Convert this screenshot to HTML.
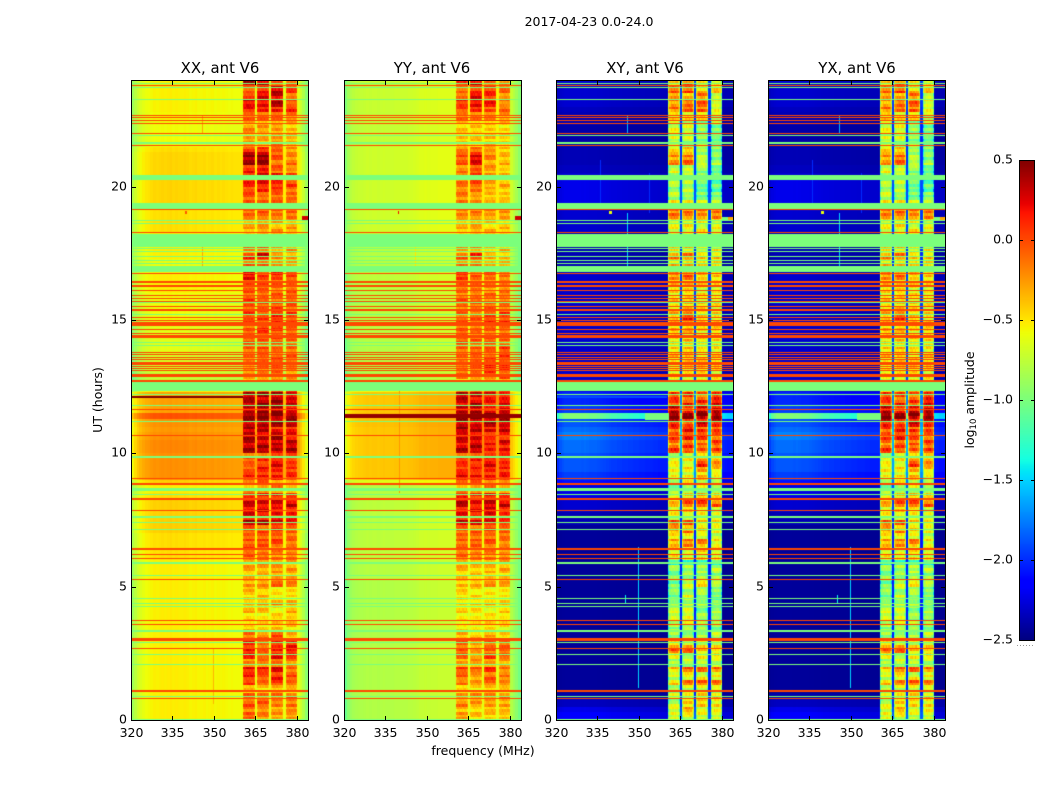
<!DOCTYPE html>
<html lang="en">
<head>
<meta charset="utf-8">
<title>2017-04-23 0.0-24.0</title>
<style>
html,body{margin:0;padding:0;background:#fff;width:1050px;height:800px;overflow:hidden}
#fig{position:relative;width:1050px;height:800px;background:#fff}
canvas{position:absolute;display:block}
svg{position:absolute;left:0;top:0}
text{font-family:"DejaVu Sans","Liberation Sans",sans-serif;font-size:12.5px;fill:#000}
.ttl{font-size:14.9px;text-anchor:middle}
</style>
</head>
<body>
<div id="fig">
<canvas id="c0" width="177" height="640" style="left:131px;top:80px"></canvas>
<canvas id="c1" width="177" height="640" style="left:344px;top:80px"></canvas>
<canvas id="c2" width="177" height="640" style="left:556px;top:80px"></canvas>
<canvas id="c3" width="177" height="640" style="left:768px;top:80px"></canvas>
<canvas id="cb" width="15" height="480" style="left:1019px;top:160px"></canvas>
<svg id="ov" width="1050" height="800" viewBox="0 0 1050 800">
<text x="589" y="26" text-anchor="middle">2017-04-23 0.0-24.0</text>
<text class="ttl" x="220" y="73">XX, ant V6</text>
<text class="ttl" x="432" y="73">YY, ant V6</text>
<text class="ttl" x="645" y="73">XY, ant V6</text>
<text class="ttl" x="857" y="73">YX, ant V6</text>
<text x="483" y="755" text-anchor="middle">frequency (MHz)</text>
<text x="0" y="0" text-anchor="middle" transform="translate(102 400) rotate(-90)">UT (hours)</text>
<text x="0" y="0" text-anchor="middle" transform="translate(974 400) rotate(-90)">log<tspan font-size="8.5" dy="2">10</tspan><tspan dy="-2"> amplitude</tspan></text>
<line x1="1017" y1="645.5" x2="1035" y2="645.5" stroke="#999" stroke-width="1" stroke-dasharray="1 2"></line>
</svg>
</div>
<script>
const xTicks = [320, 335, 350, 365, 380];
const yTicks = [0, 5, 10, 15, 20];
const colorTicks = [-2.5, -2, -1.5, -1, -0.5, 0, 0.5];
const bandEdges = [[360.6, 365], [365.6, 369.9], [370.7, 375], [375.8, 380]];

// Row = [low band, sub-band 1..4] log10 amplitude, one row per quarter hour, from 0 h upward.
const xxGrid = [
[-.55,-.1,-.2,-.25,-.25],[-.55,-.15,-.2,-.3,-.25],[-.55,-.05,-.1,-.2,-.15],[-.55,-.1,-.15,-.1,-.1],
[-.55,-.35,-.45,-.4,-.4],[-.55,0,-.1,.05,-.05],[-.55,.1,-.05,.1,-.05],[-.55,.15,.1,.2,-.1],
[-.55,-.2,-.2,-.1,-.2],[-.55,.1,0,.15,.1],[-.55,.1,-.1,.1,.15],[-.55,.1,-.1,.1,.05],
[-.55,-.1,-.2,0,-.4],[-.55,-.4,-.45,-.4,-.45],[-.55,-.45,-.5,-.45,-.4],[-.55,-.45,-.55,-.5,-.4],
[-.55,-.35,-.4,-.5,-.35],[-.55,-.4,-.3,-.2,-.3],[-.55,-.45,-.4,-.55,-.5],[-.55,-.35,-.35,-.5,-.45],
[-.55,-.3,-.25,-.1,-.2],[-.55,-.4,-.4,-.35,-.35],[-.55,-.3,-.3,-.25,-.3],[-.55,-.35,-.2,-.3,-.3],
[-.5,-.1,-.15,-.2,-.15],[-.5,0,-.15,-.2,-.2],[-.5,-.05,-.05,0,-.1],[-.5,-.1,-.05,-.05,-.1],
[-.45,-.05,-.05,0,-.1],[-.45,.35,.3,.25,.2],[-.45,.2,.15,.15,.1],[-.45,.25,.2,.15,.1],
[-.45,.25,.25,.25,.25],[-.5,.1,.1,.05,0],[-.55,-.3,-.2,-.2,-.3],[-.45,-.2,-.1,-.2,-.3],
[-.25,.1,.1,.1,.1],[-.25,-.05,.1,.15,.05],[-.25,-.1,.1,.2,.05],[-.25,-.1,-.1,0,-.05],
[-.22,.35,.35,.3,.35],[-.22,.35,.3,.3,.25],[-.25,.35,.3,.4,.2],[-.28,.3,.3,.1,.1],
[-.25,.35,.35,.35,.35],[-.05,.45,.45,.45,.45],[-.3,.3,.4,.4,.2],[-.3,.35,.4,.4,.25],
[-.3,.3,.35,.35,.25],[-.55,0,0,0,0],[-.75,-.3,-.3,-.3,-.3],[-.75,-.3,-.2,-.2,-.3],
[-.7,-.2,-.15,-.1,-.2],[-.7,-.1,-.1,-.1,-.15],[-.7,-.15,-.1,-.05,-.1],[-.65,-.1,-.05,-.15,-.1],
[-.65,-.05,-.1,-.05,-.1],[-.65,-.1,0,-.05,-.05],[-.65,-.1,.05,0,-.1],[-.65,-.05,-.1,.05,-.05],
[-.6,.1,0,.1,0],[-.6,-.05,-.05,0,-.05],[-.6,0,-.05,-.1,-.05],[-.6,-.05,-.1,-.1,-.05],
[-.55,-.05,-.1,-.1,-.1],[-.55,-.05,-.05,-.1,-.1],[-.55,.2,0,.05,0],[-.55,-.2,-.2,-.2,-.2],
[-.6,-.1,-.1,-.3,-.35],[-.55,.05,.2,-.25,-.3],[-.55,-.2,-.1,-.3,-.3],[-.6,-.3,-.3,-.4,-.4],
[-.55,-.4,-.4,-.4,-.4],[-.5,-.3,-.25,-.3,-.3],[-.5,-.3,-.3,-.3,-.3],[-.5,-.1,-.1,-.1,-.1],
[-.5,-.1,-.1,-.15,-.1],[-.47,-.1,-.1,-.1,-.15],[-.47,-.05,-.1,-.1,-.15],[-.47,.05,.05,.05,-.1],
[-.47,.1,.2,.1,0],[-.47,.1,.2,.1,0],[-.47,.1,.15,-.1,-.2],[-.47,.4,.4,-.1,-.15],
[-.47,.4,.4,-.05,-.2],[-.5,0,0,-.05,-.25],[-.6,-.3,-.3,-.2,-.35],[-.6,-.35,-.35,-.3,-.35],
[-.6,-.25,-.3,-.3,-.4],[-.6,-.3,-.3,-.3,-.4],[-.58,-.1,-.1,-.1,-.15],[-.56,.1,.1,.1,.1],
[-.56,.25,.2,.3,-.05],[-.56,.05,.2,.3,-.1],[-.56,-.1,.1,.3,.05],[-.56,.4,.3,-.1,-.1]
];
const yyGrid = [
[-.82,-.3,-.4,-.4,-.4],[-.82,-.35,-.45,-.35,-.4],[-.82,-.2,-.3,-.3,-.3],[-.82,-.3,-.2,-.2,-.2],
[-.82,-.45,-.5,-.45,-.45],[-.82,-.2,-.25,-.1,-.15],[-.82,-.1,-.3,-.1,-.2],[-.82,0,-.1,.05,-.15],
[-.82,-.3,-.3,-.25,-.3],[-.82,-.1,-.2,0,-.1],[-.82,-.1,-.3,-.1,-.1],[-.82,-.1,-.25,-.1,-.15],
[-.82,-.3,-.4,-.3,-.5],[-.82,-.5,-.55,-.5,-.55],[-.82,-.55,-.55,-.5,-.5],[-.82,-.5,-.55,-.55,-.5],
[-.82,-.45,-.5,-.55,-.45],[-.82,-.5,-.45,-.35,-.4],[-.82,-.5,-.5,-.55,-.55],[-.82,-.45,-.45,-.55,-.5],
[-.82,-.4,-.35,-.25,-.3],[-.8,-.45,-.45,-.45,-.45],[-.8,-.35,-.4,-.35,-.35],[-.8,-.35,-.3,-.35,-.3],
[-.78,-.15,-.2,-.2,-.2],[-.78,-.1,-.2,-.2,-.25],[-.78,-.1,-.1,-.05,-.15],[-.78,-.1,-.1,-.1,-.1],
[-.78,-.1,-.1,-.05,-.1],[-.78,.25,.2,.2,.1],[-.78,.15,.1,.2,.05],[-.78,.2,.15,.25,.1],
[-.78,.3,.2,.3,.25],[-.8,.15,.05,.1,.05],[-.8,-.25,-.2,-.2,-.25],[-.65,-.1,-.1,-.1,-.2],
[-.42,.2,.15,.1,.15],[-.42,.05,.05,.15,.1],[-.42,.05,.15,.2,.1],[-.42,-.05,0,.05,.05],
[-.42,.3,.3,.1,.15],[-.42,.25,.3,.15,.2],[-.42,.25,.25,.05,.1],[-.42,.35,.3,.2,.3],
[-.4,.35,.25,.3,.3],[-.38,.45,.45,.45,.45],[-.42,.3,.35,.15,.25],[-.42,.25,.3,.1,.2],
[-.42,.3,.25,.2,.15],[-.6,-.05,0,-.05,-.05],[-.85,-.4,-.3,-.4,-.4],[-.85,-.15,-.15,-.1,-.1],
[-.82,-.1,-.1,.05,.05],[-.82,-.1,-.1,-.05,-.05],[-.82,-.15,-.1,-.05,0],[-.82,-.1,-.1,-.1,.05],
[-.8,-.05,-.1,-.05,-.1],[-.8,-.1,-.1,-.1,-.1],[-.8,-.1,-.15,-.1,-.15],[-.8,-.1,-.15,.05,.05],
[-.8,-.05,-.1,0,0],[-.8,-.15,-.15,-.1,-.1],[-.8,-.1,-.1,-.15,-.15],[-.8,-.15,-.15,-.15,-.15],
[-.8,-.15,-.2,-.2,-.2],[-.8,-.1,-.15,-.2,-.2],[-.78,.05,-.1,-.1,-.15],[-.78,-.3,-.3,-.3,-.35],
[-.8,-.2,-.2,-.4,-.4],[-.8,-.1,.05,-.35,-.4],[-.8,-.3,-.25,-.4,-.4],[-.8,-.4,-.4,-.45,-.45],
[-.75,-.45,-.45,-.45,-.45],[-.72,-.35,-.3,-.4,-.4],[-.72,-.35,-.35,-.4,-.4],[-.72,-.2,-.2,-.25,-.25],
[-.72,-.2,-.2,-.25,-.25],[-.72,-.2,-.25,-.4,-.4],[-.72,-.2,-.25,-.4,-.45],[-.72,-.15,-.2,-.35,-.4],
[-.72,-.15,0,-.3,-.35],[-.72,-.15,0,-.3,-.35],[-.72,-.2,-.05,-.3,-.4],[-.72,-.05,.2,-.25,-.35],
[-.72,-.05,.2,-.2,-.35],[-.72,-.2,-.2,-.25,-.4],[-.76,-.45,-.4,-.4,-.45],[-.76,-.45,-.45,-.4,-.45],
[-.76,-.45,-.45,-.45,-.5],[-.76,-.4,-.4,-.4,-.45],[-.76,-.15,-.15,-.2,-.25],[-.74,-.05,.05,-.05,-.1],
[-.74,.1,.2,.1,-.2],[-.74,-.1,.2,.1,-.2],[-.74,-.15,.05,.05,-.1],[-.74,.1,.25,-.15,-.2]
];
const xyGrid = [
[-2.25,-.8,-.7,-.7,-.75],[-2.3,-.7,-.3,-.7,-.7],[-2.38,-.85,-.6,-.55,-.6],[-2.42,-.8,-.7,-.5,-.5],
[-2.45,-.9,-.8,-.8,-.8],[-2.45,-.6,-.2,-.1,-.1],[-2.45,-.8,-.7,-.7,-.7],[-2.45,-.5,-.2,-.25,-.2],
[-2.45,-.9,-.9,-.8,-.8],[-2.45,-.7,-.8,-.7,-.6],[-2.45,-.2,-.2,-.5,-.6],[-2.45,-.7,-.8,-.8,-.8],
[-2.45,-.9,-.9,-.9,-.9],[-2.45,-1,-.9,-1,-1],[-2.45,-.85,-.8,-1,-1],[-2.45,-.7,-.7,-1,-.9],
[-2.45,-.8,-.8,-1,-.95],[-2.45,-1,-.85,-.9,-1],[-2.45,-1.1,-.8,-1,-1.1],[-2.45,-1.05,-.85,-.8,-1],
[-2.45,-1.1,-.8,-.6,-.9],[-2.45,-1.1,-1,-1,-1],[-2.45,-1,-.9,-.9,-.9],[-2.45,-1.3,-1.3,-1.3,-1.2],
[-2.45,-.7,-.8,-.7,-.7],[-2.45,-.6,-.7,-.6,-.7],[-2.45,-.4,-.3,-.3,-.6],[-2.45,-.6,-.6,-.7,-.8],
[-2.45,-.4,-.3,-.6,-.7],[-2.4,-.15,-.15,-.5,-.5],[-2.4,-.7,-.7,-.7,-.8],[-2.35,-.6,-.6,-.7,-.8],
[-2.35,-.5,-.1,-.05,-.2],[-2.3,-.7,-.6,-.5,-.6],[-2.3,-1,-.8,-.8,-.8],[-2.2,-1,-.7,-.7,-.8],
[-2.1,-.7,-.7,-.5,-.7],[-2.05,-.65,-.65,-.3,-.5],[-2.05,-.7,-.6,-.05,-.3],[-2.05,-.8,-.7,-.6,-.6],
[-2,-.1,-.1,-.2,-.1],[-2,-.2,-.1,-.2,-.15],[-1.95,-.1,.05,-.05,-.15],[-2,-.15,.05,-.1,-.1],
[-2.05,.15,-.1,.1,.1],[-1.4,.45,.45,.45,.45],[-2.1,.2,-.05,.2,.2],[-2.15,-.05,-.05,-.05,.1],
[-2.15,-.1,-.05,-.15,.05],[-2.3,-.4,-.3,-.35,-.4],[-2.35,-.7,-.7,-.7,-.7],[-2.35,-.7,-.65,-.65,-.7],
[-2.35,-.6,-.6,-.6,-.6],[-2.35,-.55,-.5,-.5,-.6],[-2.35,-.5,-.5,-.6,-.55],[-2.35,-.55,-.5,-.7,-.6],
[-2.35,-.6,-.5,-.6,-.55],[-2.35,-.6,-.55,-.6,-.6],[-2.35,-.5,-.45,-.6,-.55],[-2.35,-.55,-.3,-.6,-.6],
[-2.35,-.35,-.05,-.5,-.6],[-2.35,-.55,-.4,-.6,-.6],[-2.35,-.6,-.5,-.6,-.6],[-2.35,-.6,-.55,-.65,-.65],
[-2.35,-.6,-.6,-.7,-.7],[-2.35,-.5,-.5,-.6,-.6],[-2.35,-.3,-.2,-.5,-.5],[-2.35,-.6,-.55,-.6,-.6],
[-2.4,-.5,-.45,-.6,-.6],[-2.4,-.3,-.3,-.55,-.5],[-2.4,-.6,-.5,-.7,-.7],[-2.4,-.8,-.8,-.8,-.8],
[-2.4,-.8,-.8,-.8,-.8],[-2.35,-.7,-.7,-.7,-.7],[-2.35,-.65,-.65,-.65,-.65],[-2.35,-.2,-.25,-.25,-.2],
[-2.35,-.25,-.3,-.3,-.25],[-2.3,-.7,-.7,-.8,-.8],[-2.3,-.9,-.9,-1.1,-1.1],[-2.3,-.9,-.9,-1.2,-1.2],
[-2.3,-.9,-.85,-1.1,-1.2],[-2.35,-.9,-.9,-1.1,-1.15],[-2.38,-.8,-.8,-1,-1.1],[-2.4,-.3,-.2,-.65,-.9],
[-2.4,-.35,-.3,-.9,-1],[-2.4,-.6,-.6,-.9,-1],[-2.42,-.9,-.9,-1,-1.1],[-2.42,-.8,-.8,-1,-1.1],
[-2.42,-.75,-.8,-1,-1.1],[-2.4,-.8,-.8,-1,-1],[-2.4,-.6,-.6,-.6,-.8],[-2.38,-.3,-.2,-.2,-.7],
[-2.35,-.3,-.2,-.2,-.7],[-2.35,-.3,-.5,-.2,-.7],[-2.35,-.2,-.1,-.5,-.5],[-2.35,-.5,-.2,-.7,-.7]
];
const yxGrid = [
[-2.25,-.75,-.7,-.75,-.75],[-2.3,-.7,-.35,-.7,-.65],[-2.38,-.8,-.6,-.6,-.6],[-2.42,-.8,-.65,-.5,-.55],
[-2.45,-.85,-.8,-.8,-.8],[-2.45,-.55,-.25,-.1,-.15],[-2.45,-.8,-.65,-.7,-.7],[-2.45,-.5,-.25,-.2,-.25],
[-2.45,-.9,-.85,-.8,-.85],[-2.45,-.7,-.75,-.7,-.6],[-2.45,-.25,-.2,-.5,-.55],[-2.45,-.7,-.8,-.8,-.75],
[-2.45,-.9,-.85,-.9,-.9],[-2.45,-1,-.9,-1,-.95],[-2.45,-.85,-.8,-.95,-1],[-2.45,-.7,-.75,-1,-.9],
[-2.45,-.8,-.8,-.95,-.95],[-2.45,-.95,-.85,-.9,-1],[-2.45,-1.1,-.85,-1,-1.05],[-2.45,-1,-.85,-.8,-1],
[-2.45,-1.1,-.8,-.65,-.9],[-2.45,-1.05,-1,-1,-1],[-2.45,-1,-.9,-.85,-.9],[-2.45,-1.3,-1.25,-1.3,-1.2],
[-2.45,-.7,-.75,-.7,-.7],[-2.45,-.6,-.7,-.65,-.7],[-2.45,-.4,-.35,-.3,-.6],[-2.45,-.6,-.6,-.65,-.8],
[-2.45,-.4,-.35,-.6,-.7],[-2.4,-.2,-.15,-.5,-.55],[-2.4,-.7,-.65,-.7,-.8],[-2.35,-.6,-.6,-.65,-.8],
[-2.35,-.45,-.1,-.1,-.2],[-2.3,-.7,-.6,-.55,-.6],[-2.3,-1,-.85,-.8,-.8],[-2.2,-.95,-.7,-.7,-.8],
[-2.1,-.7,-.65,-.5,-.7],[-2.05,-.6,-.65,-.35,-.5],[-2.05,-.7,-.6,-.1,-.3],[-2.05,-.8,-.65,-.6,-.6],
[-2,-.1,-.15,-.2,-.1],[-2,-.2,-.1,-.15,-.15],[-1.95,-.1,.05,-.1,-.15],[-2,-.15,0,-.1,-.1],
[-2.05,.15,-.05,.1,.1],[-1.4,.45,.45,.45,.45],[-2.1,.2,-.05,.15,.2],[-2.15,-.05,-.05,-.1,.1],
[-2.15,-.1,-.1,-.15,.05],[-2.3,-.4,-.35,-.35,-.4],[-2.35,-.7,-.65,-.7,-.7],[-2.35,-.7,-.6,-.65,-.7],
[-2.35,-.55,-.6,-.6,-.6],[-2.35,-.55,-.5,-.55,-.6],[-2.35,-.5,-.55,-.6,-.55],[-2.35,-.55,-.5,-.65,-.6],
[-2.35,-.6,-.55,-.6,-.55],[-2.35,-.6,-.55,-.55,-.6],[-2.35,-.5,-.5,-.6,-.55],[-2.35,-.55,-.35,-.6,-.6],
[-2.35,-.35,-.1,-.5,-.6],[-2.35,-.5,-.4,-.6,-.6],[-2.35,-.6,-.55,-.6,-.6],[-2.35,-.6,-.5,-.65,-.65],
[-2.35,-.6,-.6,-.65,-.7],[-2.35,-.5,-.55,-.6,-.6],[-2.35,-.3,-.25,-.5,-.5],[-2.35,-.6,-.5,-.6,-.6],
[-2.4,-.5,-.5,-.6,-.6],[-2.4,-.35,-.3,-.55,-.5],[-2.4,-.6,-.5,-.65,-.7],[-2.4,-.8,-.75,-.8,-.8],
[-2.4,-.8,-.75,-.8,-.8],[-2.35,-.7,-.7,-.65,-.7],[-2.35,-.65,-.6,-.65,-.65],[-2.35,-.25,-.25,-.25,-.2],
[-2.35,-.25,-.25,-.3,-.25],[-2.3,-.7,-.65,-.8,-.8],[-2.3,-.85,-.9,-1.1,-1.05],[-2.3,-.85,-.9,-1.15,-1.2],
[-2.3,-.9,-.8,-1.1,-1.2],[-2.35,-.85,-.9,-1.1,-1.15],[-2.38,-.75,-.8,-1,-1.1],[-2.4,-.35,-.2,-.7,-.9],
[-2.4,-.35,-.25,-.9,-1],[-2.4,-.55,-.6,-.9,-1],[-2.42,-.85,-.9,-1,-1.1],[-2.42,-.8,-.75,-1,-1.1],
[-2.42,-.75,-.75,-1,-1.1],[-2.4,-.8,-.75,-1,-1],[-2.4,-.55,-.6,-.6,-.8],[-2.38,-.3,-.25,-.2,-.7],
[-2.35,-.35,-.2,-.2,-.7],[-2.35,-.3,-.45,-.2,-.7],[-2.35,-.25,-.1,-.5,-.5],[-2.35,-.5,-.25,-.7,-.7]
];

// Low-band spectral shape per 1 MHz channel from 320 MHz.
const xxShape = [-.32,-.22,-.15,-.1,-.06,-.03,-.02,0,.02,.01,.02,.03,.02,.03,.04,.02,.03,.02,.02,.03,.02,0,.01,.02,0,0,.01,-.01,0,.01,-.01,0,-.01,0,-.01,-.02,-.01,-.02,-.02,-.02,-.03,-.03,-.02,-.03,-.03,-.03,-.04,-.04,-.04,-.04,-.04,-.04,-.04,-.04,-.04,-.04,-.04,-.04,-.04,-.04,-.05,-.15,-.25,-.4];
const yyShape = [-.25,-.12,-.06,-.03,-.01,0,0,.01,.02,.01,.02,.02,.01,.02,.03,.02,.02,.02,.03,.03,.03,.03,.03,.04,.04,.05,.06,.08,.08,.09,.08,.09,.09,.09,.1,.1,.1,.1,.1,.1,.1,.1,.1,.1,.1,.1,.1,.1,.1,.1,.1,.1,.1,.1,.1,.1,.1,.1,.1,.1,.02,-.05,-.12,-.22];
const crossShape = [.2,.55,.7,.8,.8,.8,.8,.8,.8,.75,.8,.75,.7,.7,.7,.65,.6,.55,.5,.45,.4,.4,.35,.35,.3,.3,.25,.25,.2,.2,.15,.15,.1,.1,.1,.05,.05,0,0,0,0,0,0,0,0,0,0,0,0,0,0,0,0,0,0,0,0,0,0,0,-.1,-.15,-.2,-.2];

// Fine structure inside the sub-bands: deviation per 0.1 h row and per 0.5 MHz channel.
const rowTexture = [.1,-.05,.12,-.12,.04,.14,-.08,-.14,.06,.1,-.1,.02,-.06,.13,-.02,-.13,.09,.03,-.11,.11,-.04,.07,-.09,.05];
const channelTexture = [-.04,.03,.06,-.02,.05,-.05,.02,.04,-.03,.06,-.04,.01];

// Flagged rows: [hour, thickness in hours].
const orangeFlags = [[.81,.05],[1.1,.08],[2.69,.05],[3.03,.1],[3.59,.05],[3.74,.05],[5.28,.05],[6.06,.05],[6.21,.05],[6.41,.09],[7.84,.05],[8.29,.06],[8.85,.08],[9.06,.05],[10.67,.05],[11.62,.05],[12.71,.08],[12.92,.12],[13.09,.05],[13.16,.05],[13.25,.05],[13.35,.13],[13.53,.05],[13.6,.05],[13.69,.05],[13.79,.05],[14.37,.12],[14.5,.05],[14.65,.05],[14.84,.15],[14.99,.05],[15.09,.05],[15.38,.08],[15.5,.05],[15.69,.05],[15.81,.05],[15.91,.05],[16.11,.05],[16.28,.08],[16.44,.08],[16.75,.05],[18.29,.05],[19.15,.05],[21.55,.05],[22,.05],[22.35,.05],[22.46,.05],[22.6,.05],[22.66,.05],[23.8,.05]];
const greenFlags = [[.03,.05],[.87,.05],[2.09,.05],[2.46,.05],[2.91,.05],[3.35,.08],[4.25,.05],[4.38,.05],[4.56,.05],[5.41,.05],[5.9,.08],[7.15,.05],[7.41,.05],[7.62,.06],[8.44,.05],[8.64,.11],[9.87,.06],[11.2,.05],[11.8,.05],[12.19,.05],[12.35,.05],[12.52,.29],[14.04,.05],[14.15,.05],[15.21,.05],[15.64,.05],[16.83,.05],[16.95,.18],[17.1,.05],[17.22,.05],[17.37,.05],[17.56,.05],[17.69,.05],[17.82,.16],[18.07,.33],[18.6,.05],[18.71,.05],[19.27,.22],[20.34,.2],[21.63,.08],[21.9,.05],[23.28,.05],[23.73,.05],[23.88,.05]];

// Isolated interference: [freq start, freq end, hour start, hour end, value].
const xxSpikes = [[345.6,346,17,18.2,-.3],[345.6,346,22,22.7,-.3],[349.8,350.2,.6,2.7,-.35],[339.5,340.2,19,19.1,-.05],[382,384,18.7,18.9,.3],[320,360.6,12.08,12.14,.6]];
const yySpikes = [[339.8,340.2,8.5,12.4,-.25],[339.5,340,19,19.1,.2],[345.6,346,17,18.2,-.5],[382,384,18.7,18.9,.3],[320,384,11.33,11.47,.45]];
const xySpikes = [[345.6,346,17,18,-1.5],[345.6,346,18.2,19,-1.5],[345.6,346,22,22.7,-1.6],[349.8,350.2,1.2,6.5,-1.5],[335.8,336.2,19.4,21,-2],[353.8,354.2,19,20.5,-2],[345,345.4,4.4,4.7,-1.4],[339,340,19,19.1,-.6],[382,384,18.7,18.85,-.3],[380,382,18.7,18.85,-1],[320,360,12.08,12.14,-1.9],[352,360.5,11.25,11.5,-1]];
const yxSpikes = [[345.6,346,17,18,-1.5],[345.6,346,18.2,19,-1.5],[345.6,346,22,22.7,-1.6],[349.8,350.2,1.2,6.5,-1.5],[335.8,336.2,19.4,21,-2],[353.8,354.2,19,20.5,-2],[345,345.4,4.4,4.7,-1.4],[339,340,19,19.1,-.6],[382,384,18.7,18.85,-.3],[380,382,18.7,18.85,-1],[352,360.5,11.25,11.5,-1]];

const CH = 0.5, DH = 0.1, F0 = 320, F1 = 384, H1 = 24, VMIN = -2.5, VMAX = 0.5;
const W = 177, H = 640;
const xScale = f => (f - F0) / (F1 - F0) * W;
const yScale = h => H - h / H1 * H;

function ramp(t, pts) {
  for (let i = 1; i < pts.length; i++) {
    if (t <= pts[i][0]) {
      const a = pts[i - 1], b = pts[i];
      return a[1] + (b[1] - a[1]) * (t - a[0]) / (b[0] - a[0]);
    }
  }
  return pts[pts.length - 1][1];
}
function jet(v) {
  const t = Math.max(0, Math.min(1, (v - VMIN) / (VMAX - VMIN)));
  const r = ramp(t, [[0,0],[.35,0],[.66,1],[.89,1],[1,.5]]);
  const g = ramp(t, [[0,0],[.125,0],[.375,1],[.64,1],[.91,0],[1,0]]);
  const b = ramp(t, [[0,.5],[.11,1],[.34,1],[.65,0],[1,0]]);
  return 'rgb(' + Math.round(r * 255) + ',' + Math.round(g * 255) + ',' + Math.round(b * 255) + ')';
}

function cellValue(row, f, pol, sub, ci) {
  const low = row[0];
  for (let k = 0; k < bandEdges.length; k++) {
    const e = bandEdges[k];
    if (f >= e[0] && f < e[1]) {
      const d = Math.min(f - e[0], e[1] - f);
      const drop = d < 0.5 ? pol.edge : d < 1 ? pol.edge * 0.2 : 0;
      const tex = rowTexture[(sub + k * 7) % rowTexture.length] + channelTexture[(ci + sub) % channelTexture.length];
      return row[k + 1] + pol.bandOffset + tex * pol.tex - drop;
    }
  }
  if (f >= bandEdges[0][0] && f < bandEdges[3][1]) return low + pol.gap;
  const s = pol.shape[Math.floor(f - F0)];
  return low + s * (pol.cross ? (low - VMIN) * 0.5 : 1);
}

function drawPanel(id, grid, pol, spikes) {
  const ctx = document.getElementById(id).getContext('2d');
  const rows = Math.round(H1 / DH);
  for (let sub = 0; sub < rows; sub++) {
    const hour = sub * DH;
    const row = grid[Math.min(grid.length - 1, Math.floor(hour * 4 + 1e-6))];
    const y0 = Math.round(yScale(hour + DH)), y1 = Math.round(yScale(hour));
    for (let ci = 0; ci * CH < F1 - F0; ci++) {
      const f = F0 + ci * CH;
      const x0 = Math.round(xScale(f)), x1 = Math.round(xScale(f + CH));
      ctx.fillStyle = jet(cellValue(row, f + CH / 2, pol, sub, ci));
      ctx.fillRect(x0, y0, x1 - x0, y1 - y0);
    }
  }
  spikes.forEach(s => {
    ctx.fillStyle = jet(s[4]);
    ctx.fillRect(Math.round(xScale(s[0])), Math.round(yScale(s[3])), Math.max(1, Math.round(xScale(s[1]) - xScale(s[0]))), Math.max(1, Math.round(yScale(s[2]) - yScale(s[3]))));
  });
  function flag(fl, value) {
    ctx.fillStyle = jet(value);
    ctx.fillRect(0, Math.round(yScale(fl[0] + fl[1] / 2)), W, Math.max(1, Math.round(fl[1] / H1 * H)));
  }
  greenFlags.forEach(fl => flag(fl, -1));
  orangeFlags.forEach(fl => flag(fl, 0));
}

drawPanel('c0', xxGrid, {shape: xxShape, cross: false, edge: .08, gap: -.05, bandOffset: 0, tex: 1}, xxSpikes);
drawPanel('c1', yyGrid, {shape: yyShape, cross: false, edge: .08, gap: .2, bandOffset: 0, tex: 1}, yySpikes);
drawPanel('c2', xyGrid, {shape: crossShape, cross: true, edge: .4, gap: .4, bandOffset: .08, tex: 1.4}, xySpikes);
drawPanel('c3', yxGrid, {shape: crossShape, cross: true, edge: .4, gap: .4, bandOffset: .08, tex: 1.4}, yxSpikes);

const cbCtx = document.getElementById('cb').getContext('2d');
for (let py = 0; py < 480; py++) {
  cbCtx.fillStyle = jet(VMAX - (py + .5) / 480 * (VMAX - VMIN));
  cbCtx.fillRect(0, py, 15, 1);
}

const NS = 'http://www.w3.org/2000/svg';
const ov = document.getElementById('ov');
function mk(tag, attrs, txt) {
  const el = document.createElementNS(NS, tag);
  for (const k in attrs) el.setAttribute(k, attrs[k]);
  if (txt !== undefined) el.textContent = txt;
  ov.appendChild(el);
  return el;
}
const panelLefts = [131, 344, 556, 768];
const panelKeys = ['xx', 'yy', 'xy', 'yx'];
panelLefts.forEach((left, p) => {
  const frame = mk('rect', {x: left + .5, y: 80.5, width: W, height: H, fill: 'none', stroke: '#000', 'stroke-width': 1});
  
  
  xTicks.forEach(v => {
    const x = Math.round(left + xScale(v)) + .5;
    const t1 = mk('line', {x1: x, x2: x, y1: 720, y2: 716, stroke: '#000'});
    
    
    const t2 = mk('line', {x1: x, x2: x, y1: 81, y2: 85, stroke: '#000'});
    
    
    const lb = mk('text', {x: x, y: 737, 'text-anchor': 'middle'}, String(v));
    
    
  });
  yTicks.forEach(v => {
    const y = Math.round(80 + yScale(v)) + .5;
    const t1 = mk('line', {x1: left, x2: left + 5, y1: y, y2: y, stroke: '#000'});
    
    
    const t2 = mk('line', {x1: left + W - 4, x2: left + W + 1, y1: y, y2: y, stroke: '#000'});
    
    
    const lb = mk('text', {x: left - 4, y: y + 3, 'text-anchor': 'end'}, String(v));
    
    
  });
});
const cbFrame = mk('rect', {x: 1019.5, y: 160.5, width: 15, height: 480, fill: 'none', stroke: '#000', 'stroke-width': 1});


colorTicks.forEach(v => {
  const y = Math.round(640 - (v - VMIN) / (VMAX - VMIN) * 480) + .5;
  const a = mk('line', {x1: 1019, x2: 1023, y1: y, y2: y, stroke: '#000'});
  
  
  const b = mk('line', {x1: 1031, x2: 1035, y1: y, y2: y, stroke: '#000'});
  
  
  const lb = mk('text', {x: 1013, y: y + 3, 'text-anchor': 'end'}, v.toFixed(1).replace('-', '\u2212'));
  
  
});
</script>
</body>
</html>
